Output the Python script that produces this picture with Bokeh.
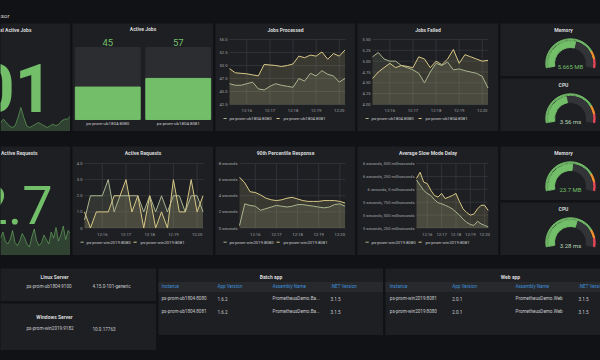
import math
from bokeh.plotting import figure
from bokeh.layouts import row, column
from bokeh.models import Range1d, FactorRange, Spacer
from bokeh.core.properties import value
from bokeh.embed import file_html
from bokeh.resources import INLINE

# ---------------- data ----------------
dashboard_title = "Processor"
time_ticks = [16, 17, 18, 19, 20]
time_labels = ["12:16", "12:17", "12:18", "12:19", "12:20"]
t_min = [15.25, 15.5, 15.75, 16.0, 16.25, 16.5, 16.75, 17.0, 17.25, 17.5, 17.75,
         18.0, 18.25, 18.5, 18.75, 19.0, 19.25, 19.5, 19.75, 20.0, 20.25]

jobs_instances = ["ps-prom-ub1804:8080", "ps-prom-ub1804:8081"]
req_instances = ["ps-prom-win2019:8080", "ps-prom-win2019:8081"]

total_active_jobs = 101
total_jobs_history = [101, 103, 101, 99, 98, 99, 104, 110, 104, 99, 98, 99, 100,
                      101, 100, 99, 98, 99, 100, 99, 100, 102, 103, 103, 105]

active_jobs = [45, 57]
active_jobs_max = 100

jobs_processed_8080 = [46.5, 46.2, 46.2, 46.5, 46.8, 45.5, 45.3, 46.0, 46.5, 46.2, 46.0,
                       45.8, 47.5, 47.0, 48.5, 48.0, 49.0, 48.3, 48.0, 46.8, 47.5]
jobs_processed_8081 = [49.4, 48.6, 48.5, 48.4, 48.2, 48.0, 50.2, 50.1, 50.0, 49.8, 50.0,
                       50.3, 51.8, 51.5, 52.0, 51.8, 52.6, 51.2, 52.3, 51.8, 53.0]
jobs_processed_ticks = [42.5, 45.0, 47.5, 50.0, 52.5, 55.0]
jobs_processed_labels = ["42.5", "45.0", "47.5", "50.0", "52.5", "55.0"]

jobs_failed_8080 = [5.1, 5.2, 5.05, 5.0, 5.0, 4.9, 4.85, 4.8, 4.72, 4.5, 4.75,
                    4.95, 4.9, 4.98, 4.8, 4.82, 4.78, 4.75, 4.72, 4.65, 4.38]
jobs_failed_8081 = [4.6, 4.75, 4.85, 4.95, 4.85, 4.9, 4.88, 4.85, 5.1, 5.05, 4.85,
                    5.0, 4.92, 5.05, 5.27, 4.95, 5.15, 5.1, 5.05, 5.0, 5.02]
jobs_failed_ticks = [4.0, 4.25, 4.5, 4.75, 5.0, 5.25, 5.5]
jobs_failed_labels = ["4.00", "4.25", "4.50", "4.75", "5.00", "5.25", "5.50"]

active_requests_now = 2.7
active_requests_history = [2.6, 3.0, 2.4, 2.2, 2.5, 3.1, 2.3, 2.1, 2.4, 2.9, 2.6, 2.2, 2.0, 2.7, 3.2,
                           2.4, 2.1, 2.3, 2.8, 2.5, 2.2, 3.0, 2.6, 3.3, 2.4, 2.8, 3.4, 2.5, 3.1, 2.9]
active_requests_8080 = [0.5, 2, 2, 2, 3, 1, 2, 2, 2, 2, 1, 2, 1, 2, 1, 2, 2, 1, 2, 2, 1]
active_requests_8081 = [1, 0, 1, 1, 1, 2, 2, 3, 1, 2, 0, 2, 0, 1, 0, 3, 1, 1, 3, 1, 2]
active_requests_ticks = [0, 1, 2, 3, 4]
active_requests_labels = ["0", "1.0", "2.0", "3.0", "4.0"]

p90_8080 = [0.3, 3.0, 2.8, 2.7, 2.2, 2.4, 2.6, 2.8, 2.7, 2.6, 2.7,
            2.9, 2.9, 2.8, 2.7, 2.6, 2.5, 2.6, 2.9, 3.0, 2.7]
p90_8081 = [6.3, 5.6, 4.5, 4.4, 4.1, 3.7, 3.5, 3.4, 3.5, 3.7, 3.8,
            3.6, 3.4, 3.3, 3.3, 3.3, 3.4, 3.4, 3.4, 3.3, 3.1]
p90_ticks = [0, 2, 4, 6, 8]
p90_labels = ["0 seconds", "2 seconds", "4 seconds", "6 seconds", "8 seconds"]

slow_8080 = [6.18, 6.08, 5.98, 5.92, 5.88, 5.8, 5.74, 5.72, 5.69, 5.66, 5.62,
             5.56, 5.5, 5.42, 5.36, 5.32, 5.3, 5.38, 5.33, 5.3, 5.27]
slow_8081 = [6.21, 6.33, 6.14, 6.11, 5.98, 5.88, 5.85, 5.92, 5.82, 5.85, 5.88,
             5.92, 5.76, 5.62, 5.55, 5.5, 5.52, 5.62, 5.69, 5.69, 5.59]
slow_ticks = [5.25, 5.5, 5.75, 6.0, 6.25, 6.5]
slow_labels = ["5 seconds, 250 milliseconds", "5 seconds, 500 milliseconds",
               "5 seconds, 750 milliseconds", "6 seconds, 0 milliseconds",
               "6 seconds, 250 milliseconds", "6 seconds, 500 milliseconds"]

proc_memory_mb, proc_memory_max = 5.665, 10
proc_cpu_ms, proc_cpu_max = 3.56, 8
web_memory_mb, web_memory_max = 23.7, 45
web_cpu_ms, web_cpu_max = 3.28, 5.6
gauge_thresholds = [0.0, 0.8, 0.9, 1.0]

linux_server = ["ps-prom-ub1804:9100", "4.15.0-101-generic"]
windows_server = ["ps-prom-win2019:9182", "10.0.17763"]

table_headers = ["Instance", "App Version", "Assembly Name", ".NET Version"]
batch_instance = ["ps-prom-ub1804:8080", "ps-prom-ub1804:8081"]
batch_app_version = ["1.6.2", "1.6.2"]
batch_assembly = ["PrometheusDemo.Ba...", "PrometheusDemo.Ba..."]
batch_net = ["3.1.5", "3.1.5"]
web_instance = ["ps-prom-win2019:8081", "ps-prom-win2019:8080"]
web_app_version = ["2.0.1", "2.0.1"]
web_assembly = ["PrometheusDemo.Web", "PrometheusDemo.Web"]
web_net = ["3.1.5", "3.1.5"]

# ---------------- style ----------------
FONT = "Roboto"
PAGE = "#111215"
PANEL = "#1e1f23"
HEADER_BG = "#27292d"
BAR_BG = "#2c2d31"
GRID = "#35373b"
TITLE_C = "#d8d9da"
AXIS_C = "#a3a5a9"
TEXT_C = "#c8cacd"
GREEN = "#73bf69"
BLUE = "#3e8fd8"
SERIES = ["#a9b58f", "#d8c886"]
TH_COLORS = ["#73bf69", "#ff9830", "#f2495c"]
GAUGE_BG = "#333438"
X0, X1 = 15.25, 20.27


def frame_fig(w, h, xr=None, yr=None):
    p = figure(width=w, height=h, x_range=xr if xr is not None else Range1d(0, w),
               y_range=yr if yr is not None else Range1d(0, h),
               output_backend="svg", toolbar_location=None,
               x_axis_location=None, y_axis_location=None,
               background_fill_color=PANEL, border_fill_color=PANEL, outline_line_color=None,
               min_border=0, min_border_left=0, min_border_right=0,
               min_border_top=0, min_border_bottom=0)
    p.xgrid.visible = False
    p.ygrid.visible = False
    return p


def txt(p, x, y, s, size, color, align="center", baseline="middle", style="normal", **kw):
    p.text(x=x if isinstance(x, list) else [x], y=y if isinstance(y, list) else [y],
           text=s if isinstance(s, list) else [s],
           text_font=value(FONT), text_font_size=size, text_color=color,
           text_align=align, text_baseline=baseline, text_font_style=style, **kw)


def ts_panel(w, h, title, series, names, yr, yticks, ylabels, area):
    # area: plot-area edges and text rows, in px from the panel's left / top
    L, R, T, B, title_y, leg_y = area
    ymin, ymax = yr
    kx = (X1 - X0) / (R - L)
    ky = (ymax - ymin) / (B - T)
    p = frame_fig(w, h, Range1d(X0 - L * kx, X1 + (w - R) * kx),
                  Range1d(ymin - (h - B) * ky, ymax + T * ky))
    p.extra_x_ranges = {"px": Range1d(0, w)}
    p.extra_y_ranges = {"px": Range1d(0, h)}
    nx, ny = len(time_ticks), len(yticks)
    p.segment(x0=time_ticks, y0=[ymin] * nx, x1=time_ticks, y1=[ymax] * nx,
              line_color=GRID, line_width=0.8)
    p.segment(x0=[X0] * ny, y0=yticks, x1=[X1] * ny, y1=yticks,
              line_color=GRID, line_width=0.8)
    for ys, col in zip(series, SERIES):
        p.varea(x=t_min, y1=ymin, y2=ys, fill_color=col, fill_alpha=0.15)
    for ys, col in zip(series, SERIES):
        p.line(x=t_min, y=ys, line_color=col, line_width=1)
    txt(p, time_ticks, [ymin] * nx, time_labels, "4.2px", AXIS_C, y_offset=6)
    txt(p, [X0] * ny, yticks, ylabels, "4.1px", AXIS_C, align="right", x_offset=-2)
    px = dict(x_range_name="px", y_range_name="px")
    txt(p, w / 2, h - title_y, title, "5px", TITLE_C, style="bold", **px)
    p.segment(x0=[8, 61], y0=[h - leg_y] * 2, x1=[11.2, 64.2], y1=[h - leg_y] * 2,
              line_color=SERIES, line_width=1, **px)
    txt(p, [14, 68], [h - leg_y] * 2, names, "4.3px", TEXT_C, align="left", **px)
    return p


def stat_panel(w, h, title, title_align, title_x, title_y, big, big_x, big_y, big_size,
               big_style, hist, lo_px, hi_px):
    p = frame_fig(w, h)
    lo, hi = min(hist), max(hist)
    per_px = (hi - lo) / (hi_px - lo_px)
    start = lo - lo_px * per_px
    p.extra_y_ranges = {"spark": Range1d(start, start + per_px * h)}
    p.extra_x_ranges = {"idx": Range1d(0, len(hist) - 1)}
    xs = list(range(len(hist)))
    p.varea(x=xs, y1=start, y2=hist, fill_color=GREEN, fill_alpha=0.22,
            x_range_name="idx", y_range_name="spark")
    p.line(x=xs, y=hist, line_color=GREEN, line_alpha=0.55, line_width=1,
           x_range_name="idx", y_range_name="spark")
    txt(p, big_x, big_y, str(big), big_size, GREEN, align="right", baseline="middle",
        style=big_style)
    txt(p, title_x, h - title_y, title, "5px", TITLE_C, align=title_align, style="bold")
    return p


def bar_panel(w, h):
    p = frame_fig(w, h, FactorRange(factors=jobs_instances, range_padding=0),
                  Range1d(-16.7, 133.3))
    p.vbar(x=jobs_instances, top=[active_jobs_max] * len(jobs_instances), bottom=0,
           width=0.92, color=BAR_BG)
    p.vbar(x=jobs_instances, top=active_jobs, bottom=0, width=0.92, color=GREEN)
    txt(p, jobs_instances, [107.0] * 2, [str(v) for v in active_jobs], "9.5px", GREEN)
    txt(p, jobs_instances, [-5.6] * 2, jobs_instances, "4.4px", TEXT_C)
    txt(p, jobs_instances[0], 125.0, "Active Jobs", "5px", TITLE_C, style="bold",
        x_offset=w / 4)
    return p


def gauge_panel(w, h, title, val, vmax, unit, val_color):
    p = frame_fig(w, h)
    cx, cy = 70, h - 40
    a0, sweep = 190.0, 200.0

    def ang(f):
        return math.radians(a0 - sweep * f)
    for i, c in enumerate(TH_COLORS):
        p.annular_wedge(x=cx, y=cy, inner_radius=23.2, outer_radius=24.7,
                        start_angle=ang(gauge_thresholds[i + 1]),
                        end_angle=ang(gauge_thresholds[i]), color=c, alpha=0.9)
    f = val / vmax
    p.annular_wedge(x=cx, y=cy, inner_radius=16, outer_radius=22.2,
                    start_angle=ang(1.0), end_angle=ang(f), color=GAUGE_BG)
    p.annular_wedge(x=cx, y=cy, inner_radius=16, outer_radius=22.2,
                    start_angle=ang(f), end_angle=ang(0.0), color=GREEN)
    txt(p, cx, cy - 2.5, f"{val} {unit}", "6px", val_color)
    txt(p, 63, h - 6, title, "5px", TITLE_C, style="bold")
    return p


def server_panel(w, h, title, vals, title_y, val_y):
    p = frame_fig(w, h)
    txt(p, 54, h - title_y, title, "5px", TITLE_C, style="bold")
    txt(p, [26, 92], [h - val_y] * 2, vals, "4.6px", TEXT_C, align="left")
    return p


def table_panel(w, h, title, title_x, cols, col_x):
    p = frame_fig(w, h)
    txt(p, title_x, h - 8, title, "5px", TITLE_C, style="bold")
    p.quad(left=0, right=w, top=h - 14, bottom=h - 23, color=HEADER_BG)
    txt(p, col_x, [h - 18.3] * len(col_x), table_headers, "4.6px", BLUE, align="left")
    for j, col in enumerate(cols):
        ys = [h - 30 - 13 * i for i in range(len(col))]
        txt(p, [col_x[j]] * len(col), ys, col, "4.6px", TEXT_C, align="left")
    return p


# ---------------- panels ----------------
header = frame_fig(600, 23)
header.background_fill_color = PAGE
header.border_fill_color = PAGE
txt(header, 9, 8, dashboard_title, "6px", TITLE_C, align="right")

stat1 = stat_panel(70, 108, "Total Active Jobs", "right", 31, 6,
                   total_active_jobs, 52, 44, "66px", "bold", total_jobs_history, 4, 24)
bars = bar_panel(141, 108)
jp = ts_panel(140, 108, "Jobs Processed", [jobs_processed_8080, jobs_processed_8081],
              jobs_instances, (42.5, 55.0), jobs_processed_ticks, jobs_processed_labels,
              (14, 130, 16, 81, 6, 95))
jf = ts_panel(141, 108, "Jobs Failed", [jobs_failed_8080, jobs_failed_8081],
              jobs_instances, (4.0, 5.5), jobs_failed_ticks, jobs_failed_labels,
              (15, 131, 16, 81, 6, 95))
g1 = gauge_panel(100, 53, "Memory", proc_memory_mb, proc_memory_max, "MB", GREEN)
g2 = gauge_panel(100, 53, "CPU", proc_cpu_ms, proc_cpu_max, "ms", "#b9d6b3")

stat2 = stat_panel(70, 109, "Active Requests", "left", 0.5, 6.7,
                   active_requests_now, 52, 50.5, "54px", "normal",
                   active_requests_history, 8.5, 29.5)
ar = ts_panel(141, 109, "Active Requests", [active_requests_8080, active_requests_8081],
              req_instances, (0, 4), active_requests_ticks, active_requests_labels,
              (12, 131, 17, 81.5, 6.7, 95.7))
p90 = ts_panel(140, 109, "90th Percentile Response", [p90_8080, p90_8081],
               req_instances, (0, 8), p90_ticks, p90_labels,
               (24, 130, 17, 81.5, 6.7, 95.7))
sm = ts_panel(141, 109, "Average Slow Mode Delay", [slow_8080, slow_8081],
              req_instances, (5.25, 6.5), slow_ticks, slow_labels,
              (59, 131, 17, 81.5, 6.7, 95.7))
g3 = gauge_panel(100, 54, "Memory", web_memory_mb, web_memory_max, "MB", GREEN)
g4 = gauge_panel(100, 53, "CPU", web_cpu_ms, web_cpu_max, "ms", "#b9d6b3")

linux = server_panel(156, 33, "Linux Server", linux_server, 8, 18)
windows = server_panel(156, 47, "Windows Server", windows_server, 13, 25)
batch = table_panel(225, 67, "Batch app", 112.5,
                    [batch_instance, batch_app_version, batch_assembly, batch_net],
                    [3, 59, 114, 172])
web = table_panel(215, 67, "Web app", 125,
                  [web_instance, web_app_version, web_assembly, web_net],
                  [4.3, 66.7, 130, 193])

row1 = row(stat1, bars, jp, jf, column(g1, g2, spacing=2), spacing=2)
row2 = row(stat2, ar, p90, sm, column(g3, g4, spacing=2), spacing=2)
row3 = row(column(linux, windows, spacing=2), batch, web, spacing=2)

root = column(header, row1, Spacer(width=600, height=15), row2, Spacer(width=600, height=13),
              row3, Spacer(width=600, height=10), spacing=0,
              styles={"background-color": PAGE})
try:
    from bokeh.models import GlobalInlineStyleSheet
    root.stylesheets = [GlobalInlineStyleSheet(css="html, body { background-color: #111215; }")]
except Exception:
    pass

open("out.html", "w").write(file_html(root, INLINE))
